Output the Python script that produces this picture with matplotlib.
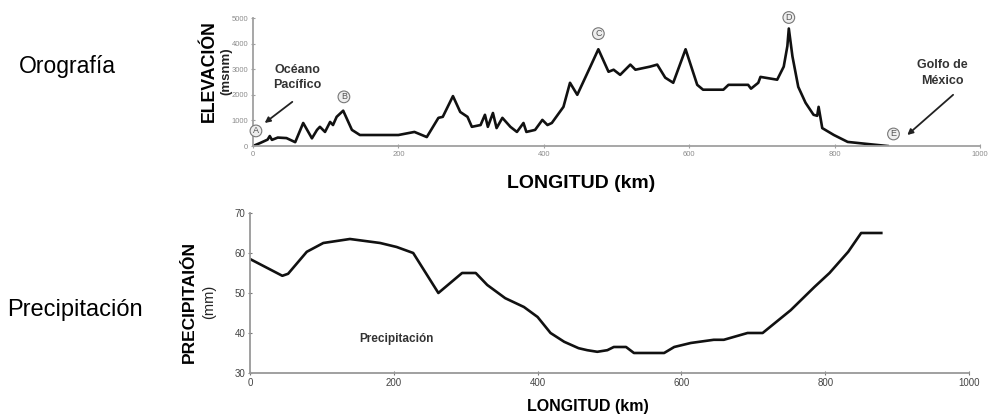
import matplotlib
matplotlib.use("Agg")
import matplotlib.pyplot as plt

plt.rcParams['font.family'] = ['Liberation Sans', 'DejaVu Sans']

# perfil orografico (km, msnm)
elev_km = [0, 10, 20, 23, 26, 34, 46, 58, 69, 81, 88, 92, 99, 106, 110, 115, 124,
           136, 147, 200, 222, 239, 255, 261, 275, 285, 295, 301, 313, 319, 323,
           330, 335, 343, 354, 363, 372, 376, 388, 398, 405, 411, 427, 436, 446,
           464, 475, 489, 496, 505, 519, 526, 546, 556, 567, 578, 595, 611, 619,
           647, 654, 681, 685, 695, 698, 721, 730, 735, 737, 742, 750, 760, 771,
           776, 778, 783, 799, 818, 845, 873]
elev_m = [0, 120, 250, 390, 240, 330, 310, 150, 900, 300, 630, 750, 550, 940, 820,
          1140, 1380, 630, 430, 430, 550, 350, 1100, 1140, 1950, 1330, 1140, 750,
          820, 1220, 750, 1290, 700, 1100, 750, 550, 900, 550, 630, 1020, 820, 900,
          1530, 2470, 2000, 3100, 3780, 2900, 2980, 2780, 3180, 2980, 3100, 3180,
          2670, 2470, 3780, 2390, 2200, 2200, 2390, 2390, 2240, 2470, 2700, 2590,
          3100, 3900, 4590, 3500, 2310, 1690, 1220, 1180, 1530, 700, 430, 160, 80, 0]

# precipitacion (km, mm)
prec_km = [0, 45, 53, 79, 102, 139, 181, 204, 227, 262, 295, 314, 330, 355, 381,
           400, 418, 437, 457, 469, 483, 497, 506, 523, 534, 576, 590, 613, 645,
           659, 692, 713, 752, 785, 806, 832, 850, 878]
prec_mm = [58.5, 54.3, 54.8, 60.3, 62.5, 63.5, 62.5, 61.5, 60, 50, 55, 55, 52,
           48.7, 46.5, 44, 40, 37.8, 36.2, 35.7, 35.3, 35.7, 36.5, 36.5, 35, 35,
           36.5, 37.5, 38.3, 38.3, 40, 40, 45.7, 51.5, 55, 60.3, 65, 65]

puntos = ['A', 'B', 'C', 'D', 'E']
puntos_km = [4, 125, 475, 737, 881]
puntos_m = [590, 1920, 4390, 5020, 470]

fig = plt.figure(figsize=(9.9, 4.16), dpi=100)
gris = '#8c8c8c'

# ---- orografia
ax1 = fig.add_axes([0.2556, 0.649, 0.7343, 0.3077])
ax1.plot(elev_km, elev_m, color='#111111', lw=1.9, solid_joinstyle='round')
ax1.set_xlim(0, 1000)
ax1.set_ylim(0, 5000)
ax1.set_xticks([0, 200, 400, 600, 800, 1000])
ax1.set_yticks([0, 1000, 2000, 3000, 4000, 5000])
for s in ['top', 'right']:
    ax1.spines[s].set_visible(False)
for s in ['left', 'bottom']:
    ax1.spines[s].set_color('#a0a0a0')
    ax1.spines[s].set_linewidth(1.3)
ax1.tick_params(labelsize=5.5, labelcolor=gris, colors='#a0a0a0', length=3,
                direction='inout', pad=2)
ax1.set_xlabel('LONGITUD (km)', fontsize=14, fontweight='bold')
ax1.xaxis.set_label_coords(0.451, -0.23)

for p, x, y in zip(puntos, puntos_km, puntos_m):
    ax1.text(x, y, p, ha='center', va='center', fontsize=6.5, color='#555555',
             clip_on=False,
             bbox=dict(boxstyle='circle,pad=0.15', fc='#eeeeee', ec='#777777', lw=0.8))

ax1.text(61, 2670, 'Océano\nPacífico', fontsize=9, fontweight='bold',
         color='#333333', ha='center', va='center', linespacing=1.4)
ax1.annotate('', xy=(16, 900), xytext=(54, 1725),
             arrowprops=dict(arrowstyle='-|>', color='#222222', lw=1.3,
                             mutation_scale=8, shrinkA=0, shrinkB=0))
ax1.text(948, 2860, 'Golfo de\nMéxico', fontsize=9, fontweight='bold',
         color='#333333', ha='center', va='center', clip_on=False, linespacing=1.4)
ax1.annotate('', xy=(900, 430), xytext=(963, 2000), annotation_clip=False,
             arrowprops=dict(arrowstyle='-|>', color='#222222', lw=1.3,
                             mutation_scale=8, shrinkA=0, shrinkB=0))

fig.text(0.211, 0.83, 'ELEVACIÓN', rotation=90, ha='center', va='center',
         fontsize=12.8, fontweight='bold')
fig.text(0.2285, 0.83, '(msnm)', rotation=90, ha='center', va='center',
         fontsize=9.5, fontweight='bold', color='#222222')
fig.text(0.068, 0.839, 'Orografía', ha='center', va='center', fontsize=16.5)

# ---- precipitacion
ax2 = fig.add_axes([0.2525, 0.1034, 0.7263, 0.3846])
ax2.plot(prec_km, prec_mm, color='#111111', lw=1.9, solid_joinstyle='round')
ax2.set_xlim(0, 1000)
ax2.set_ylim(30, 70)
ax2.set_xticks([0, 200, 400, 600, 800, 1000])
ax2.set_yticks([30, 40, 50, 60, 70])
for s in ['top', 'right']:
    ax2.spines[s].set_visible(False)
for s in ['left', 'bottom']:
    ax2.spines[s].set_color('#999999')
    ax2.spines[s].set_linewidth(1.3)
ax2.tick_params(labelsize=7, labelcolor='#444444', colors='#777777', length=3,
                direction='inout', pad=2)
ax2.set_xlabel('LONGITUD (km)', fontsize=11.5, fontweight='bold')
ax2.xaxis.set_label_coords(0.47, -0.165)
ax2.text(203, 38.5, 'Precipitación', fontsize=8.5, fontweight='bold', color='#333333',
         ha='center', va='center')

fig.text(0.1915, 0.274, 'PRECIPITAIÓN', rotation=90, ha='center', va='center',
         fontsize=12.5, fontweight='bold')
fig.text(0.2115, 0.274, '(mm)', rotation=90, ha='center', va='center',
         fontsize=10.5, color='#222222')
fig.text(0.076, 0.255, 'Precipitación', ha='center', va='center', fontsize=17)

fig.savefig('out.png', dpi=100)
